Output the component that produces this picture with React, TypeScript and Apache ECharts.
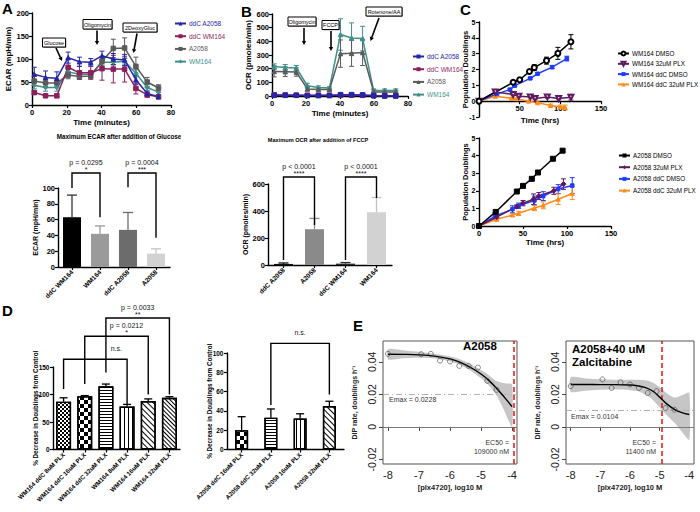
import React, { useEffect, useRef } from 'react';
import * as echarts from 'echarts';

const FONT = "'Liberation Sans', Arial, Helvetica, sans-serif";

// ---------------- Panel A: ECAR time course ----------------
const seahorseTime = [1.3, 7.8, 14.3, 20.8, 27.3, 33.8, 40.3, 46.8, 53.3, 59.8, 66.3, 72.8];
const ecarNames = ['ddC A2058', 'ddC WM164', 'A2058', 'WM164'];
const ecarDdcA2058 = [67, 60, 58, 103, 94, 93, 107, 100, 98, 55, 25, 18];
const ecarDdcA2058Err = [15, 14, 14, 12, 10, 8, 10, 12, 12, 10, 5, 4];
const ecarDdcWM164 = [27, 20, 20, 82, 70, 70, 79, 78, 78, 36, 22, 18];
const ecarDdcWM164Err = [4, 3, 4, 18, 14, 14, 25, 30, 28, 12, 5, 4];
const ecarA2058 = [52, 48, 48, 65, 62, 63, 95, 123, 124, 84, 50, 37];
const ecarA2058Err = [10, 8, 8, 8, 6, 6, 10, 20, 22, 20, 10, 7];
const ecarWM164 = [43, 38, 38, 72, 67, 67, 93, 93, 95, 69, 38, 28];
const ecarWM164Err = [8, 8, 8, 8, 6, 6, 6, 6, 6, 8, 6, 5];

// ---------------- Panel B: OCR time course ----------------
const ocrDdcA2058 = [5, 5, 5, 3, 3, 3, 10, 10, 8, 2, 0, 0];
const ocrDdcA2058Err = [4, 4, 4, 3, 3, 3, 8, 8, 8, 3, 3, 3];
const ocrDdcWM164 = [8, 8, 6, 5, 5, 5, 5, 5, 5, 3, 2, 2];
const ocrDdcWM164Err = [3, 3, 3, 3, 3, 3, 4, 4, 4, 3, 3, 3];
const ocrA2058 = [180, 178, 175, 52, 47, 47, 310, 312, 318, 30, 30, 30];
const ocrA2058Err = [40, 35, 30, 15, 10, 10, 100, 95, 95, 15, 12, 12];
const ocrWM164 = [215, 208, 205, 75, 62, 58, 450, 425, 420, 40, 40, 40];
const ocrWM164Err = [20, 22, 18, 18, 12, 10, 115, 110, 90, 12, 12, 12];

// ---------------- Max ECAR / OCR bars ----------------
const ecarMaxCats = ['ddC WM164', 'WM164', 'ddC A2058', 'A2058'];
const ecarMaxMean = [63, 42, 47, 17];
const ecarMaxUpper = [91, 52, 69, 23];
const ecarBrackets = [[0, 1, 119, 100, 63], [2, 3, 119, 101, 37]];
const ecarBracketText = [['p = 0.0295', '*'], ['p = 0.0004', '***']];

const ocrMaxCats = ['ddC A2058', 'A2058', 'ddC WM164', 'WM164'];
const ocrMaxMean = [8, 265, 10, 390];
const ocrMaxUpper = [15, 345, 18, 500];
const ocrBrackets = [[0, 1, 652, 37, 296], [2, 3, 652, 37, 496]];
const ocrBracketText = [['p < 0.0001', '****'], ['p < 0.0001', '****']];

// ---------------- Panel C: population doublings ----------------
const cTopNames = ['WM164 DMSO', 'WM164 32uM PLX', 'WM164 ddC DMSO', 'WM164 ddC 32uM PLX'];
const wmDmsoT = [0, 42, 50, 62, 68, 83, 97, 113];
const wmDmsoPD = [0, 1.19, 1.35, 1.87, 2.12, 2.56, 3.02, 3.75];
const wmDmsoErr = [0, 0.06, 0.06, 0.12, 0.18, 0.22, 0.38, 0.45];
const wmPlxT = [0, 20, 42, 49, 63, 69, 84, 98, 113];
const wmPlxPD = [0, 0.58, 0.42, 0.31, 0.27, 0.17, 0.27, 0.17, 0.25];
const wmPlxErr = [0, 0.05, 0.05, 0.05, 0.06, 0.05, 0.08, 0.08, 0.18];
const wmDdcT = [0, 22, 38, 44, 63, 72, 90, 108];
const wmDdcPD = [0, 0.46, 0.73, 0.98, 1.44, 1.73, 2.15, 2.69];
const wmDdcErr = [0, 0.03, 0.05, 0.05, 0.05, 0.05, 0.1, 0.15];
const wmDdcPlxT = [0, 20, 40, 46, 61, 72, 88, 100, 106];
const wmDdcPlxPD = [0, 0.31, 0.18, 0.15, 0.0, -0.1, -0.27, -0.35, -0.4];
const wmDdcPlxErr = [0, 0.03, 0.05, 0.05, 0.05, 0.05, 0.08, 0.1, 0.15];
const cTopYTicks = [-1, 0, 1, 2, 3, 4, 5];

const cBotNames = ['A2058 DMSO', 'A2058 32uM PLX', 'A2058 ddC DMSO', 'A2058 ddC 32uM PLX'];
const aDmsoT = [0, 19, 43, 50, 60, 67, 84, 95];
const aDmsoPD = [0, 0.8, 1.96, 2.28, 2.68, 3.04, 3.82, 4.28];
const aPlxT = [0, 20, 43, 50, 62, 68, 85, 96];
const aPlxPD = [0, 0.5, 1.1, 1.3, 1.52, 1.7, 2.0, 2.38];
const aPlxErr = [0, 0.1, 0.1, 0.15, 0.3, 0.2, 0.2, 0.3];
const aDdcT = [0, 18, 38, 45, 63, 73, 90, 106];
const aDdcPD = [0, 0.55, 0.95, 1.15, 1.45, 1.7, 2.1, 2.3];
const aDdcErr = [0, 0.2, 0.2, 0.15, 0.25, 0.25, 0.25, 0.45];
const aDdcPlxT = [0, 20, 38, 45, 63, 73, 90, 106];
const aDdcPlxPD = [0, 0.38, 0.62, 0.72, 1.02, 1.18, 1.52, 1.85];
const aDdcPlxErr = [0, 0.1, 0.08, 0.12, 0.15, 0.2, 0.3, 0.35];
const cBotYTicks = [0, 1, 2, 3, 4, 5];

// ---------------- Panel D: % decrease in doublings ----------------
const dLeftCats = ['WM164 ddC 8uM PLX', 'WM164 ddC 16uM PLX', 'WM164 ddC 32uM PLX', 'WM164 8uM PLX', 'WM164 16uM PLX', 'WM164 32uM PLX'];
const dLeftMean = [87, 97, 115, 78, 88, 94];
const dLeftUpper = [94, 98, 119, 82, 92, 96];
const dLeftBrackets = [[2, 5, 239, 140, 100], [1, 4, 206, 119, 100], [0, 3, 164, 110, 82]];
const dLeftBracketText = [['p = 0.0033', '**'], ['p = 0.0212', '*'], ['n.s.', '']];
const dLeftLabelShift = [0, 10, 21];
const dLeftYTicks = [0, 50, 100, 150];

const dRightCats = ['A2058 ddC 16uM PLX', 'A2058 ddC 32uM PLX', 'A2058 16uM PLX', 'A2058 32uM PLX'];
const dRightMean = [20, 33, 32, 45];
const dRightUpper = [34, 42, 37, 50];
const dRightBrackets = [[1, 3, 110, 46, 57]];
const dRightBracketText = [['n.s.', '']];
const dRightYTicks = [0, 20, 40, 60, 80, 100];

// ---------------- Panel E: DIP rate dose response ----------------
const eDose = [-8, -6.93, -6.62, -6.32, -6.0, -5.7, -5.4, -5.1, -4.8, -4.5];
const eRateA2058 = [0.0449, 0.0447, 0.0449, 0.0408, 0.0402, 0.0375, 0.0375, 0.0365, 0.0283, 0.0228];
const eRateZalc = [0.0251, 0.0292, 0.024, 0.0274, 0.0261, 0.024, 0.0209, 0.022, 0.0116, 0.0106];
const eFitDose = [-8, -7.5, -7, -6.5, -6, -5.75, -5.5, -5.25, -5, -4.75, -4.5, -4.25, -4];
const eFitA2058 = [0.0447, 0.0446, 0.0443, 0.0435, 0.0418, 0.0403, 0.0382, 0.0356, 0.0325, 0.0286, 0.0238, 0.0183, 0.0125];
const eFitA2058Lo = [0.0415, 0.0422, 0.0425, 0.042, 0.0402, 0.0386, 0.0363, 0.0335, 0.03, 0.0255, 0.0195, 0.01, 0.0];
const eFitA2058Hi = [0.0478, 0.047, 0.0462, 0.045, 0.0434, 0.042, 0.0401, 0.0377, 0.035, 0.0318, 0.0282, 0.0268, 0.0262];
const eFitZalc = [0.0261, 0.0261, 0.026, 0.026, 0.0258, 0.0253, 0.0243, 0.0222, 0.0183, 0.014, 0.0108, 0.0088, 0.0076];
const eFitZalcLo = [0.0215, 0.0222, 0.0228, 0.023, 0.0226, 0.022, 0.02, 0.017, 0.012, 0.007, 0.0025, -0.003, -0.008];
const eFitZalcHi = [0.0305, 0.0298, 0.0293, 0.029, 0.029, 0.029, 0.0287, 0.0275, 0.0245, 0.0205, 0.018, 0.0195, 0.021];
const eEmax = [0.0228, 0.0104];
const eEc50nM = [109000, 11400];
const eTicksX = [-8, -7, -6, -5, -4];
const eTicksY = [-0.02, 0, 0.02, 0.04];

// ---------------- colours ----------------
const ecarColors = ['#2626a6', '#8c1f5e', '#5a5a5a', '#3f8f8b'];
const cColors = ['#000000', '#5e1a60', '#1f3cff', '#ff8c1a'];
const ecarBarColors = ['#000000', '#9a9a9a', '#6c6c6c', '#d2d2d2'];
const ecarErrColors = ['#333333', '#9a9a9a', '#6c6c6c', '#c4c4c4'];
const ocrBarColors = ['#111111', '#8a8a8a', '#2a2a2a', '#d2d2d2'];
const ocrErrColors = ['#111111', '#8a8a8a', '#2a2a2a', '#c4c4c4'];

// ---------------- layout (pixel boxes of each plot) ----------------
const GRID_A_LINE = { left: 32, top: 13, width: 139, height: 92 };
const GRID_A_BAR = { left: 58, top: 188, width: 112, height: 79 };
const GRID_B_LINE = { left: 272, top: 14, width: 136, height: 82 };
const GRID_B_BAR = { left: 268, top: 184, width: 124, height: 81 };
const GRID_C_TOP = { left: 479, top: 22, width: 122, height: 95 };
const GRID_C_BOT = { left: 479, top: 138, width: 132, height: 88 };
const GRID_D_LEFT = { left: 53, top: 367, width: 127, height: 82.5 };
const GRID_D_RIGHT = { left: 227, top: 353, width: 117, height: 96.5 };
const GRID_E_LEFT = { left: 383, top: 341, width: 134, height: 123, show: true, borderColor: '#555', borderWidth: 1 };
const GRID_E_RIGHT = { left: 566, top: 341, width: 128, height: 123, show: true, borderColor: '#555', borderWidth: 1 };

// ---------------- helpers ----------------
const prismAxisLine = { show: true, onZero: false, lineStyle: { color: '#000', width: 1.4 } };
const prismTick = { show: true, length: 3, lineStyle: { color: '#000', width: 1.2 } };
const prismLabel = (size = 7.5) => ({ show: true, fontSize: size, fontWeight: 'bold', color: '#000', fontFamily: FONT, margin: 3 });
const prismName = (size = 8) => ({ fontSize: size, fontWeight: 'bold', color: '#000', fontFamily: FONT });

function valueAxis(min: number, max: number, interval: number, name: string, nameGap: number, extra: any = {}) {
  return {
    type: 'value', min, max, interval,
    axisLine: prismAxisLine, axisTick: prismTick, axisLabel: prismLabel(), splitLine: { show: false },
    name, nameLocation: 'middle', nameGap, nameTextStyle: prismName(), ...extra,
  };
}
// value axis with listed ticks; its tick labels are written in the text layer (tickLabels below)
function listedAxis(ticks: number[], name: string, nameGap: number, nameSize: number) {
  return {
    type: 'value', min: ticks[0], max: ticks[ticks.length - 1],
    axisLine: prismAxisLine,
    axisTick: { ...prismTick, customValues: ticks },
    axisLabel: { show: false },
    splitLine: { show: false },
    name, nameLocation: 'middle', nameGap, nameTextStyle: prismName(nameSize),
  };
}
function catAxis(data: string[], size: number) {
  return {
    type: 'category', data,
    axisLine: prismAxisLine, axisTick: { ...prismTick, alignWithLabel: true },
    axisLabel: { ...prismLabel(size), rotate: 45, interval: 0, margin: 4 }, splitLine: { show: false },
  };
}
function rXAxis() {
  return {
    type: 'value', min: -8.16, max: -3.84,
    axisLine: { show: false },
    axisTick: { show: true, customValues: eTicksX, length: 4, lineStyle: { color: '#444', width: 1 } },
    axisLabel: { customValues: eTicksX, fontSize: 11, color: '#222', margin: 5, fontFamily: FONT },
    splitLine: { show: false },
    name: '[plx4720], log10 M', nameLocation: 'middle', nameGap: 19,
    nameTextStyle: { fontSize: 7.5, fontWeight: 'bold', color: '#222', fontFamily: FONT },
  };
}
function rYAxis() {
  return {
    type: 'value', min: -0.0228, max: 0.0528,
    axisLine: { show: false },
    axisTick: { show: true, customValues: eTicksY, length: 4, lineStyle: { color: '#444', width: 1 } },
    axisLabel: {
      customValues: eTicksY, rotate: 90, fontSize: 10.5, color: '#222', margin: 6, fontFamily: FONT,
      formatter: (v: number) => (Math.abs(v) < 1e-9 ? '0' : v.toFixed(2)),
    },
    splitLine: { show: false },
    name: 'DIP rate, doublings h⁻¹', nameLocation: 'middle', nameGap: 25,
    nameTextStyle: { fontSize: 7, fontWeight: 'bold', color: '#222', fontFamily: FONT },
  };
}

function lineSeries(name: string, xs: number[], ys: number[], color: string, symbol: string, size: number, extra: any = {}) {
  return {
    type: 'line', name, data: xs.map((x, i) => [x, ys[i]]), symbol, symbolSize: size,
    lineStyle: { color, width: 1.5 }, itemStyle: { color, borderColor: color }, z: 4, ...extra,
  };
}
function errSeries(xs: number[], ys: number[], errs: number[], color: string, cap = 2.5) {
  return {
    type: 'custom', silent: true, clip: false, z: 3, itemStyle: { color },
    data: xs.map((x, i) => [x, ys[i] - errs[i], ys[i] + errs[i]]),
    renderItem: (params: any, api: any) => {
      if (api.value(2) - api.value(1) <= 0) return null;
      const p1 = api.coord([api.value(0), api.value(1)]);
      const p2 = api.coord([api.value(0), api.value(2)]);
      const st = { stroke: color, lineWidth: 1 };
      return {
        type: 'group', children: [
          { type: 'line', shape: { x1: p1[0], y1: p1[1], x2: p2[0], y2: p2[1] }, style: st },
          { type: 'line', shape: { x1: p1[0] - cap, y1: p1[1], x2: p1[0] + cap, y2: p1[1] }, style: st },
          { type: 'line', shape: { x1: p2[0] - cap, y1: p2[1], x2: p2[0] + cap, y2: p2[1] }, style: st },
        ],
      };
    },
  };
}
function barErrSeries(means: number[], uppers: number[], colors: string[], cap: number, width = 1.3) {
  return {
    type: 'custom', silent: true, clip: false, z: 3, itemStyle: { color: '#000' },
    data: means.map((m, i) => [i, m, uppers[i]]),
    renderItem: (params: any, api: any) => {
      const p1 = api.coord([api.value(0), api.value(1)]);
      const p2 = api.coord([api.value(0), api.value(2)]);
      const st = { stroke: colors[params.dataIndex], lineWidth: width };
      return {
        type: 'group', children: [
          { type: 'line', shape: { x1: p1[0], y1: p1[1], x2: p2[0], y2: p2[1] }, style: st },
          { type: 'line', shape: { x1: p2[0] - cap, y1: p2[1], x2: p2[0] + cap, y2: p2[1] }, style: st },
        ],
      };
    },
  };
}
function bracketSeries(brackets: number[][]) {
  return {
    type: 'custom', silent: true, clip: false, z: 6, itemStyle: { color: '#000' },
    data: brackets,
    renderItem: (params: any, api: any) => {
      const a = api.coord([api.value(0), api.value(2)]);
      const b = api.coord([api.value(1), api.value(2)]);
      const la = api.coord([api.value(0), api.value(3)]);
      const rb = api.coord([api.value(1), api.value(4)]);
      return {
        type: 'polyline',
        shape: { points: [[la[0], la[1]], [a[0], a[1]], [b[0], b[1]], [rb[0], rb[1]]] },
        style: { stroke: '#000', lineWidth: 1.4, fill: null },
      };
    },
  };
}
function bandSeries(xs: number[], lo: number[], hi: number[]) {
  return {
    type: 'custom', silent: true, z: 1, itemStyle: { color: '#c6c6c6' },
    data: xs.map((x, i) => [x, lo[i], hi[i]]),
    renderItem: (params: any, api: any) => {
      if (params.dataIndex !== 0) return null;
      const top = xs.map((x, i) => api.coord([x, hi[i]]));
      const bot = xs.map((x, i) => api.coord([x, lo[i]])).reverse();
      return { type: 'polygon', shape: { points: top.concat(bot), smooth: 0.2 }, style: { fill: '#c6c6c6' } };
    },
  };
}
function txt(x: number, y: number, text: string, o: any = {}) {
  return {
    type: 'text', x, y, silent: true, rotation: o.rot ?? 0, z: 50,
    style: {
      text, fontFamily: FONT, fontSize: o.size ?? 8, fontWeight: o.weight ?? 'normal', fill: o.color ?? '#000',
      align: o.align ?? 'left', verticalAlign: o.va ?? 'middle',
    },
  };
}
function noteBox(x: number, y: number, w: number, h: number, label: string) {
  return [
    { type: 'rect', shape: { x: x + 0.8, y: y + 0.8, width: w, height: h }, style: { fill: '#777' }, silent: true },
    { type: 'rect', shape: { x, y, width: w, height: h }, style: { fill: '#fff', stroke: '#000', lineWidth: 1 }, silent: true },
    txt(x + w / 2, y + h / 2 + 0.3, label, { size: 5.5, align: 'center' }),
  ];
}
function arrow(x1: number, y1: number, x2: number, y2: number, head = 4) {
  const ang = Math.atan2(y2 - y1, x2 - x1);
  const hx = x2 - head * Math.cos(ang);
  const hy = y2 - head * Math.sin(ang);
  const px = -Math.sin(ang) * head * 0.55;
  const py = Math.cos(ang) * head * 0.55;
  return [
    { type: 'line', shape: { x1, y1, x2: hx, y2: hy }, style: { stroke: '#000', lineWidth: 1.6 }, silent: true },
    { type: 'polygon', shape: { points: [[x2, y2], [hx + px, hy + py], [hx - px, hy - py]] }, style: { fill: '#000' }, silent: true },
  ];
}
function legendOf(left: number, top: number, names: string[], colors: string[] | null, gap: number, size: number) {
  return {
    left, top, orient: 'vertical', selectedMode: false,
    itemWidth: 11, itemHeight: 5, itemGap: gap,
    data: names.map((n, i) => ({ name: n, textStyle: { color: colors ? colors[i] : '#000' } })),
    textStyle: { fontSize: size, lineHeight: 9, fontFamily: FONT, padding: [0, 0, 0, -2] },
  };
}
// tick labels of the listed axes: the same linear map as the value axis (grid box <-> [min, max])
function tickLabels(grid: any, ticks: number[], size: number) {
  const lo = ticks[0];
  const hi = ticks[ticks.length - 1];
  return ticks.map((v) => txt(grid.left - 3.5, grid.top + ((hi - v) / (hi - lo)) * grid.height, String(v), { size, weight: 'bold', align: 'right' }));
}

type Post = (chart: any) => any[];

// p-value labels above brackets, placed through the chart's own axes
function bracketLabels(brackets: number[][], texts: string[][], shifts: number[] = []): Post {
  return (chart: any) => {
    const out: any[] = [];
    brackets.forEach((b, i) => {
      const f = { xAxisIndex: 0, yAxisIndex: 0 };
      const a = chart.convertToPixel(f, [b[0], b[2]]);
      const c = chart.convertToPixel(f, [b[1], b[2]]);
      if (!a || !c) return;
      const mx = (a[0] + c[0]) / 2 + (shifts[i] || 0);
      out.push(txt(mx, a[1] - 10.5, texts[i][0], { size: 7, align: 'center', color: '#111' }));
      if (texts[i][1]) out.push(txt(mx, a[1] - 3.5, texts[i][1], { size: 7, align: 'center', color: '#111' }));
    });
    return out;
  };
}

// decal patterns
const D_FINE = { symbol: 'rect', symbolSize: 1, color: '#000', backgroundColor: '#fff', dashArrayX: [[2, 2], [0, 2, 2, 0]], dashArrayY: [2, 0], rotation: 0 };
const D_CHECK = { symbol: 'rect', symbolSize: 1, color: '#000', backgroundColor: '#fff', dashArrayX: [[4, 4], [0, 4, 4, 0]], dashArrayY: [4, 0], rotation: 0 };
const D_HOR = { symbol: 'rect', symbolSize: 1, color: '#000', backgroundColor: '#fff', dashArrayX: [1, 0], dashArrayY: [1, 2], rotation: 0 };
const D_VER = { symbol: 'rect', symbolSize: 1, color: '#000', backgroundColor: '#fff', dashArrayX: [1, 2.5], dashArrayY: [1, 0], rotation: 0 };
const D_DIAG = { symbol: 'rect', symbolSize: 1, color: '#000', backgroundColor: '#fff', dashArrayX: [1, 0], dashArrayY: [1, 3], rotation: Math.PI / 4 };
const D_DIAG2 = { symbol: 'rect', symbolSize: 1, color: '#000', backgroundColor: '#fff', dashArrayX: [1, 0], dashArrayY: [1, 2], rotation: Math.PI / 4 };
const dLeftDecals = [D_FINE, D_CHECK, D_HOR, D_VER, D_DIAG, D_DIAG2];
const dRightDecals = [D_CHECK, D_HOR, D_VER, D_DIAG];

type Panel = { option: any; post?: Post };

function base(extra: any): any {
  return { animation: false, textStyle: { fontFamily: FONT }, ...extra };
}

function buildPanels(): Panel[] {
  const panels: Panel[] = [];

  // A line
  {
    const ys = [ecarDdcA2058, ecarDdcWM164, ecarA2058, ecarWM164];
    const es = [ecarDdcA2058Err, ecarDdcWM164Err, ecarA2058Err, ecarWM164Err];
    const sym = ['triangle', 'rect', 'rect', 'diamond'];
    const series: any[] = [];
    [3, 2, 1, 0].forEach((i) => {
      series.push(errSeries(seahorseTime, ys[i], es[i], ecarColors[i]));
      series.push(lineSeries(ecarNames[i], seahorseTime, ys[i], ecarColors[i], sym[i], 4.5));
    });
    panels.push({ option: base({
      grid: [GRID_A_LINE],
      xAxis: [valueAxis(0, 80, 20, 'Time (minutes)', 13)],
      yAxis: [valueAxis(0, 200, 50, 'ECAR (mpH/min)', 15)],
      legend: [legendOf(169, 14, ecarNames, ecarColors, 3.7, 6.5)],
      series,
    }) });
  }
  // B line
  {
    const ys = [ocrDdcA2058, ocrDdcWM164, ocrA2058, ocrWM164];
    const es = [ocrDdcA2058Err, ocrDdcWM164Err, ocrA2058Err, ocrWM164Err];
    const sym = ['rect', 'rect', 'triangle', 'triangle'];
    const series: any[] = [];
    [3, 2, 1, 0].forEach((i) => {
      series.push(errSeries(seahorseTime, ys[i], es[i], ecarColors[i]));
      series.push(lineSeries(ecarNames[i], seahorseTime, ys[i], ecarColors[i], sym[i], 4.5));
    });
    panels.push({ option: base({
      grid: [GRID_B_LINE],
      xAxis: [valueAxis(0, 80, 20, 'Time (minutes)', 13)],
      yAxis: [valueAxis(0, 600, 100, 'OCR (pmoles/min)', 18)],
      legend: [legendOf(407, 47, ecarNames, ecarColors, 3.7, 6.5)],
      series,
    }) });
  }
  // A bar
  panels.push({
    option: base({
      grid: [GRID_A_BAR],
      xAxis: [catAxis(ecarMaxCats, 6.5)],
      yAxis: [valueAxis(0, 100, 20, 'ECAR (mpH/min)', 15, { nameTextStyle: prismName(7) })],
      series: [
        { type: 'bar', barWidth: 18, z: 2, data: ecarMaxMean.map((v, i) => ({ value: v, itemStyle: { color: ecarBarColors[i] } })) },
        barErrSeries(ecarMaxMean, ecarMaxUpper, ecarErrColors, 5),
        bracketSeries(ecarBrackets),
      ],
    }),
    post: bracketLabels(ecarBrackets, ecarBracketText),
  });
  // B bar
  panels.push({
    option: base({
      grid: [GRID_B_BAR],
      xAxis: [catAxis(ocrMaxCats, 6.5)],
      yAxis: [valueAxis(0, 600, 200, 'OCR (pmoles/min)', 14, { nameTextStyle: prismName(7) })],
      series: [
        { type: 'bar', barWidth: 19, z: 2, data: ocrMaxMean.map((v, i) => ({ value: v, itemStyle: { color: ocrBarColors[i] } })) },
        barErrSeries(ocrMaxMean, ocrMaxUpper, ocrErrColors, 5),
        bracketSeries(ocrBrackets),
      ],
    }),
    post: bracketLabels(ocrBrackets, ocrBracketText),
  });
  // C top
  panels.push({ option: base({
    grid: [GRID_C_TOP],
    xAxis: [valueAxis(0, 150, 50, 'Time (hrs)', 15, { offset: -15.8, axisLabel: { ...prismLabel(), showMinLabel: false } })],
    yAxis: [listedAxis(cTopYTicks, 'Population Doublings', 10, 7.5)],
    legend: [legendOf(612, 44, cTopNames, null, 1.3, 6.3)],
    series: [
      errSeries(wmDmsoT, wmDmsoPD, wmDmsoErr, cColors[0]),
      errSeries(wmPlxT, wmPlxPD, wmPlxErr, cColors[1]),
      errSeries(wmDdcT, wmDdcPD, wmDdcErr, cColors[2]),
      errSeries(wmDdcPlxT, wmDdcPlxPD, wmDdcPlxErr, cColors[3]),
      lineSeries(cTopNames[3], wmDdcPlxT, wmDdcPlxPD, cColors[3], 'triangle', 4),
      lineSeries(cTopNames[2], wmDdcT, wmDdcPD, cColors[2], 'rect', 3.5),
      lineSeries(cTopNames[1], wmPlxT, wmPlxPD, cColors[1], 'emptyTriangle', 5, { symbolRotate: 180 }),
      lineSeries(cTopNames[0], wmDmsoT, wmDmsoPD, cColors[0], 'emptyCircle', 5),
    ],
  }) });
  // C bottom
  panels.push({ option: base({
    grid: [GRID_C_BOT],
    xAxis: [valueAxis(0, 150, 50, 'Time (hrs)', 12)],
    yAxis: [listedAxis(cBotYTicks, 'Population Doublings', 10, 7.5)],
    legend: [legendOf(613, 146, cBotNames, null, 2.7, 6.3)],
    series: [
      errSeries(aPlxT, aPlxPD, aPlxErr, cColors[1]),
      errSeries(aDdcT, aDdcPD, aDdcErr, cColors[2]),
      errSeries(aDdcPlxT, aDdcPlxPD, aDdcPlxErr, cColors[3]),
      lineSeries(cBotNames[3], aDdcPlxT, aDdcPlxPD, cColors[3], 'triangle', 4),
      lineSeries(cBotNames[2], aDdcT, aDdcPD, cColors[2], 'rect', 3.5),
      lineSeries(cBotNames[1], aPlxT, aPlxPD, cColors[1], 'diamond', 5),
      lineSeries(cBotNames[0], aDmsoT, aDmsoPD, cColors[0], 'rect', 5),
    ],
  }) });
  // D left
  panels.push({
    option: base({
      grid: [GRID_D_LEFT],
      xAxis: [catAxis(dLeftCats, 6.2)],
      yAxis: [listedAxis(dLeftYTicks, '% Decrease in Doublings from Control', 15, 6.3)],
      series: [
        { type: 'bar', barWidth: 15, z: 2, data: dLeftMean.map((v, i) => ({ value: v, itemStyle: { color: '#fff', borderColor: '#000', borderWidth: 1.4, decal: dLeftDecals[i] } })) },
        barErrSeries(dLeftMean, dLeftUpper, dLeftCats.map(() => '#000'), 4),
        bracketSeries(dLeftBrackets),
      ],
    }),
    post: bracketLabels(dLeftBrackets, dLeftBracketText, dLeftLabelShift),
  });
  // D right
  panels.push({
    option: base({
      grid: [GRID_D_RIGHT],
      xAxis: [catAxis(dRightCats, 6.2)],
      yAxis: [listedAxis(dRightYTicks, '% Decrease in Doublings from Control', 15, 6.3)],
      series: [
        { type: 'bar', barWidth: 13, z: 2, data: dRightMean.map((v, i) => ({ value: v, itemStyle: { color: '#fff', borderColor: '#000', borderWidth: 1.4, decal: dRightDecals[i] } })) },
        barErrSeries(dRightMean, dRightUpper, dRightCats.map(() => '#000'), 4),
        bracketSeries(dRightBrackets),
      ],
    }),
    post: bracketLabels(dRightBrackets, dRightBracketText),
  });
  // E panels
  const eSets = [
    { grid: GRID_E_LEFT, fit: eFitA2058, lo: eFitA2058Lo, hi: eFitA2058Hi, pts: eRateA2058 },
    { grid: GRID_E_RIGHT, fit: eFitZalc, lo: eFitZalcLo, hi: eFitZalcHi, pts: eRateZalc },
  ];
  eSets.forEach((s, k) => {
    panels.push({ option: base({
      grid: [s.grid],
      xAxis: [rXAxis()],
      yAxis: [rYAxis()],
      series: [
        bandSeries(eFitDose, s.lo, s.hi),
        {
          type: 'line', smooth: 0.4, symbol: 'none', z: 3,
          data: eFitDose.map((x, i) => [x, s.fit[i]]),
          lineStyle: { color: '#000', width: 1.4 },
          markLine: {
            silent: true, symbol: ['none', 'none'], label: { show: false }, z: 2,
            data: [
              { yAxis: 0, lineStyle: { color: '#7a7a7a', type: 'solid', width: 1 } },
              { yAxis: eEmax[k], lineStyle: { color: '#b0b0b0', type: [6, 3, 1, 3], width: 1 } },
              { xAxis: Math.log10(eEc50nM[k] * 1e-9), lineStyle: { color: '#e3211c', type: [5, 3], width: 1.6 } },
            ],
          },
        },
        {
          type: 'scatter', symbol: 'circle', symbolSize: 5, z: 4,
          data: eDose.map((x, i) => [x, s.pts[i]]),
          itemStyle: { color: 'rgba(255,255,255,0)', borderColor: '#444', borderWidth: 0.8 },
        },
      ],
    }) });
  });
  // free texts, tick labels of the listed axes, annotation boxes
  panels.push({ option: base({
    graphic: [
      txt(2, 1, 'A', { size: 15, weight: 'bold', va: 'top' }),
      txt(241, 4, 'B', { size: 15, weight: 'bold', va: 'top' }),
      txt(460, 2, 'C', { size: 15, weight: 'bold', va: 'top' }),
      txt(2, 303, 'D', { size: 15, weight: 'bold', va: 'top' }),
      txt(353, 318, 'E', { size: 15, weight: 'bold', va: 'top' }),
      txt(119, 136, 'Maximum ECAR after addition of Glucose', { size: 6.3, weight: 'bold', align: 'center' }),
      txt(318, 140, 'Maximum OCR after addition of FCCP', { size: 5.6, weight: 'bold', align: 'center' }),
      ...tickLabels(GRID_C_TOP, cTopYTicks, 7),
      ...tickLabels(GRID_C_BOT, cBotYTicks, 7),
      ...tickLabels(GRID_D_LEFT, dLeftYTicks, 6.5),
      ...tickLabels(GRID_D_RIGHT, dRightYTicks, 6.5),
      ...noteBox(42.5, 38, 23, 9, 'Glucose'),
      ...arrow(56, 48, 62, 61),
      ...noteBox(83, 19.5, 29, 9.5, 'Oligomycin'),
      ...arrow(97, 30.5, 97, 45),
      ...noteBox(123, 23, 34, 9, '2DeoxyGluc'),
      ...arrow(137, 33.5, 133.5, 53),
      ...noteBox(288, 17, 28, 9, 'Oligomycin'),
      ...arrow(304, 28, 304, 45),
      ...noteBox(322, 20.5, 17, 9, 'FCCP'),
      ...arrow(331, 31, 331, 51),
      ...noteBox(366, 7, 36, 9, 'Rotenone/AA'),
      ...arrow(379, 18, 370.5, 41),
      txt(463, 346, 'A2058', { size: 11.5, weight: 'bold' }),
      txt(389, 399, 'Emax = 0.0228', { size: 7, color: '#333' }),
      txt(509, 442, 'EC50 =', { size: 7, color: '#333', align: 'right' }),
      txt(509, 451, '109000 nM', { size: 7, color: '#333', align: 'right' }),
      txt(572, 349, 'A2058+40 uM', { size: 11.5, weight: 'bold' }),
      txt(572, 362, 'Zalcitabine', { size: 11.5, weight: 'bold' }),
      txt(571, 416, 'Emax = 0.0104', { size: 7, color: '#333' }),
      txt(656, 442, 'EC50 =', { size: 7, color: '#333', align: 'right' }),
      txt(656, 451, '11400 nM', { size: 7, color: '#333', align: 'right' }),
    ],
  }) });
  return panels;
}

const PANEL_COUNT = 11;

export default function App() {
  const refs = useRef<(HTMLDivElement | null)[]>([]);
  useEffect(() => {
    const panels = buildPanels();
    const charts: any[] = [];
    panels.forEach((p, i) => {
      const el = refs.current[i];
      if (!el) return;
      const chart = echarts.init(el, null, { renderer: 'svg' });
      chart.setOption(p.option);
      if (p.post) {
        const extra = p.post(chart);
        if (extra.length) chart.setOption({ graphic: extra });
      }
      charts.push(chart);
    });
    return () => charts.forEach((c) => c.dispose());
  }, []);
  return (
    <div style={{ position: 'fixed', left: 0, top: 0, width: 700, height: 512, background: '#fff' }}>
      {Array.from({ length: PANEL_COUNT }).map((_, i) => (
        <div
          key={i}
          ref={(el) => { refs.current[i] = el; }}
          style={{ position: 'absolute', left: 0, top: 0, width: 700, height: 512 }}
        />
      ))}
    </div>
  );
}
